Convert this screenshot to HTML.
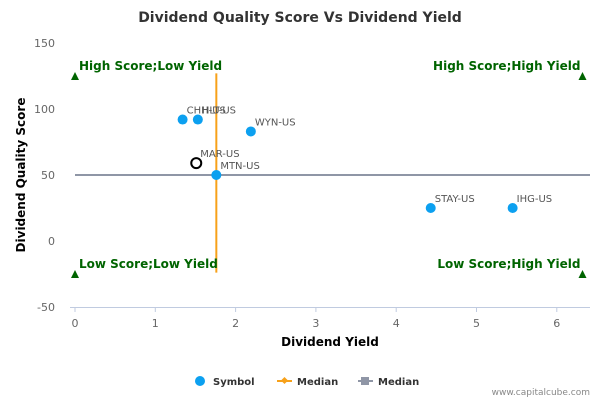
<!DOCTYPE html>
<html><head><meta charset="utf-8"><style>
body{margin:0;background:#fff;font-family:"Liberation Sans","DejaVu Sans",sans-serif}
</style></head><body>
<svg id="c" width="600" height="400" xmlns="http://www.w3.org/2000/svg" font-family="DejaVu Sans, Liberation Sans, sans-serif">
<text x="300" y="22" text-anchor="middle" font-size="14" font-weight="bold" fill="#333">Dividend Quality Score Vs Dividend Yield</text>
<g id="grid"></g><g id="axes"></g><g id="marks"></g>
<text x="330" y="346" text-anchor="middle" font-size="12" font-weight="bold" fill="#000">Dividend Yield</text>
<text transform="translate(25,175) rotate(-90)" text-anchor="middle" font-size="12" font-weight="bold" fill="#000">Dividend Quality Score</text>
<g font-size="10" font-weight="bold" fill="#333">
<g><circle cx="200" cy="381" r="5" fill="#0ca0f0"/><text x="213" y="385">Symbol</text></g>
<g><line x1="277" y1="381" x2="292" y2="381" stroke="#f7a11a" stroke-width="2"/><rect x="282" y="378" width="5" height="5" transform="rotate(45 284.5 380.5)" fill="#f7a11a"/><text x="297" y="385">Median</text></g>
<g><line x1="358" y1="381" x2="373" y2="381" stroke="#8f96a6" stroke-width="2"/><rect x="361" y="377" width="8" height="8" fill="#8f96a6"/><text x="378" y="385">Median</text></g>
</g>
<text x="590" y="395" text-anchor="end" font-size="9" fill="#888">www.capitalcube.com</text>
</svg>
<script>
const xTicks=[0,1,2,3,4,5,6];
const yTicks=[-50,0,50,100,150];
const symbols=["CHH-US","HLT-US","WYN-US","MAR-US","MTN-US","STAY-US","IHG-US"];
const yields=[1.34,1.53,2.19,1.51,1.76,4.43,5.45];
const scores=[92,92,83,59,50,25,25];
const medianYield=1.76, medianScore=50;
const quadLabels=["High Score;Low Yield","High Score;High Yield","Low Score;Low Yield","Low Score;High Yield"];
const quadX=[0,6.32,0,6.32], quadY=[125,125,-25,-25];
const X=v=>75+v*80.3, Y=v=>175-(v-50)*1.32;
const ns="http://www.w3.org/2000/svg";
function mk(p,t,a){const e=document.createElementNS(ns,t);for(const k in a)e.setAttribute(k,a[k]);p.appendChild(e);return e;}
const ax=document.getElementById('axes'),m=document.getElementById('marks');
let xl=mk(ax,'line',{x1:70,x2:590,y1:Y(-50)+0.5,y2:Y(-50)+0.5,stroke:'#c0cbe0'});

xTicks.forEach(v=>{mk(ax,'line',{x1:X(v),x2:X(v),y1:Y(-50),y2:Y(-50)+5,stroke:'#c0cbe0'});
const t=mk(ax,'text',{x:X(v),y:Y(-50)+20,'text-anchor':'middle','font-size':11,fill:'#666'});t.textContent=v;
});
yTicks.forEach(v=>{const t=mk(ax,'text',{x:55,y:Y(v)+4,'text-anchor':'end','font-size':11,fill:'#666'});t.textContent=v;
});
let h=mk(m,'line',{x1:X(0),x2:590,y1:Y(medianScore),y2:Y(medianScore),stroke:'#8f96a6','stroke-width':2});

let v=mk(m,'line',{x1:X(medianYield),x2:X(medianYield),y1:Y(127),y2:Y(-24),stroke:'#f7a11a','stroke-width':2});

quadLabels.forEach((s,i)=>{const x=X(quadX[i]),y=Y(quadY[i]);
const tr=mk(m,'path',{d:`M${x-4} ${y+4}L${x+4} ${y+4}L${x} ${y-4}Z`,fill:'#006400'});

const t=mk(m,'text',{x:i%2?x-2:x+4,y:y-6,'text-anchor':i%2?'end':'start','font-size':12,'font-weight':'bold',fill:'#006400'});
t.textContent=s;});
symbols.forEach((s,i)=>{const cx=X(yields[i]),cy=Y(scores[i]);
const c=s==="MAR-US"?mk(m,'circle',{cx,cy,r:5,fill:'#fff',stroke:'#000','stroke-width':2}):mk(m,'circle',{cx,cy,r:5,fill:'#0ca0f0'});

const t=mk(m,'text',{x:cx+4,y:cy-6,'font-size':10,fill:'#555'});t.textContent=s;
});
</script>
</body></html>
